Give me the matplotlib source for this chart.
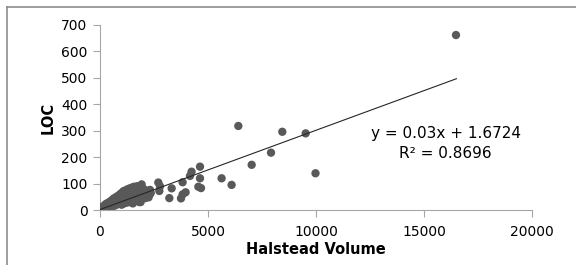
import numpy as np
import matplotlib
matplotlib.use("Agg")
import matplotlib.pyplot as plt
from matplotlib.lines import Line2D

# Halstead volume vs LOC
halstead = [
    20, 50, 80, 100, 120, 150, 180, 200, 220, 250, 280, 300, 320, 350, 380, 400,
    420, 450, 480, 500, 520, 550, 580, 600, 620, 650, 680, 700, 720, 750, 780, 800,
    820, 850, 880, 900, 920, 950, 980, 1000, 1020, 1050, 1080, 1100, 1120, 1150,
    1180, 1200, 1230, 1250, 1280, 1300, 1350, 1400, 1420, 1450, 1500, 1520, 1550,
    1600, 1650, 1680, 1700, 1750, 1800, 1820, 1850, 1900, 1950, 2000, 2050, 2100,
    2150, 2200, 2250, 2350,
    60, 140, 260, 340, 460, 560, 640, 760, 860, 960, 1060, 1160, 1260, 1380,
    1480, 1580, 1720, 1880, 2080,
    1929, 1929, 2315, 2315, 2700, 2778, 2747, 3210, 3318, 3750, 3824, 3963, 3824,
    4167, 4240, 4630, 4630, 4553, 4676, 5630, 6093, 6404, 7022, 7917, 8440, 9522,
    9977, 16481,
]
loc = [
    2, 5, 3, 8, 4, 10, 6, 12, 8, 15, 10, 18, 7, 14, 20, 12,
    25, 16, 22, 30, 12, 20, 28, 35, 15, 24, 32, 40, 18, 28, 45, 22,
    35, 50, 26, 38, 55, 30, 42, 20, 48, 60, 33, 72, 25, 45,
    55, 35, 65, 28, 50, 40, 58, 30, 75, 45, 55, 25, 68,
    40, 80, 35, 60, 48, 70, 30, 55, 42, 65, 50, 78, 45,
    60, 55, 48, 65,
    8, 14, 22, 26, 32, 38, 44, 50, 55, 62, 68, 72, 78, 82,
    85, 88, 90, 30, 68,
    97, 82, 76, 60, 104, 90, 72, 45, 82, 44, 105, 67, 59,
    129, 145, 164, 120, 88, 83, 120, 95, 318, 171, 217, 296, 290,
    139, 662,
]
slope, intercept = 0.03, 1.6724
fit_x = [0, 16500]

fig = plt.figure(figsize=(5.76, 2.65), dpi=100)
ax = fig.add_axes([0.1736, 0.2075, 0.75, 0.6982])

ax.scatter(halstead, loc, s=36, color="#595959", edgecolors="none", zorder=3)
fx = np.array(fit_x)
ax.plot(fx, slope * fx + intercept, color="#262626", lw=0.8, zorder=4)

ax.set_xlim(0, 20000)
ax.set_ylim(0, 700)
ax.set_xticks([0, 5000, 10000, 15000, 20000])
ax.set_yticks(range(0, 701, 100))
for s in ("top", "right"):
    ax.spines[s].set_visible(False)
for s in ("left", "bottom"):
    ax.spines[s].set_color("#a6a6a6")
ax.tick_params(axis="x", length=5, color="#a6a6a6", labelsize=10, pad=6)
ax.tick_params(axis="y", length=5, color="#a6a6a6", labelsize=10, pad=4)
ax.set_xlabel("Halstead Volume", fontsize=10.5, weight="bold", labelpad=2)
ax.set_ylabel("LOC", fontsize=10.5, weight="bold", labelpad=4)

ax.text(0.8, 0.415, "y = 0.03x + 1.6724", transform=ax.transAxes, ha="center",
        va="center", fontsize=11)
ax.text(0.8, 0.305, "R² = 0.8696", transform=ax.transAxes, ha="center",
        va="center", fontsize=11)

# gray chart frame (top and left edges visible in the crop)
fig.add_artist(Line2D([7 / 576, 1], [1 - 7 / 265] * 2, color="#8c8c8c", lw=1.2))
fig.add_artist(Line2D([7 / 576] * 2, [0, 1 - 7 / 265], color="#8c8c8c", lw=1.2))

fig.savefig("out.png", dpi=100)
